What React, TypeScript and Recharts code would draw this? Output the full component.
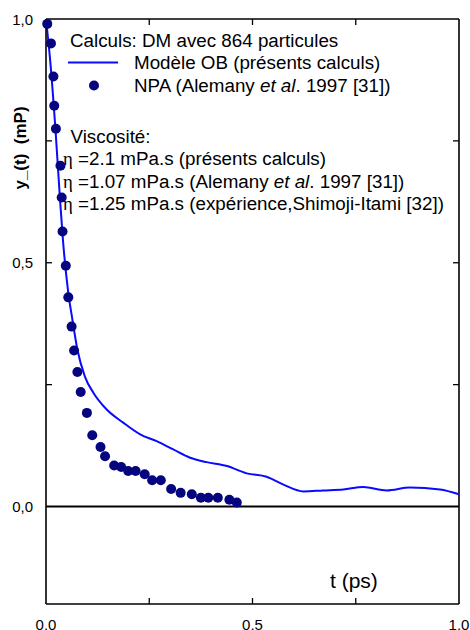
import React from "react"
import {
  ComposedChart,
  Line,
  XAxis,
  YAxis,
  ReferenceLine,
} from "recharts"

// Modèle OB (présents calculs) — courbe continue
const obTimes = [
  0, 0.01, 0.0235, 0.034, 0.041, 0.053, 0.064, 0.076, 0.094, 0.115, 0.147, 0.187, 0.228, 0.268,
  0.308, 0.349, 0.389, 0.438, 0.486, 0.534, 0.575, 0.623, 0.671, 0.72, 0.768, 0.825, 0.881, 0.954, 1.0,
]
const obValues = [
  1.0, 0.916, 0.766, 0.629, 0.547, 0.445, 0.383, 0.322, 0.267, 0.233, 0.199, 0.172, 0.148, 0.134,
  0.117, 0.1, 0.091, 0.083, 0.068, 0.061, 0.045, 0.031, 0.033, 0.035, 0.04, 0.033, 0.039, 0.035, 0.025,
]

// NPA (Alemany et al. 1997) — points
const npaTimes = [
  0.003, 0.012, 0.018, 0.02, 0.024, 0.035, 0.038, 0.04, 0.048, 0.054, 0.062, 0.068, 0.076, 0.084,
  0.099, 0.112, 0.132, 0.143, 0.165, 0.182, 0.199, 0.217, 0.239, 0.257, 0.278, 0.303, 0.326, 0.353,
  0.375, 0.393, 0.416, 0.444, 0.462,
]
const npaValues = [
  0.99, 0.95, 0.882, 0.822, 0.775, 0.699, 0.634, 0.564, 0.494, 0.429, 0.369, 0.32, 0.276, 0.235,
  0.192, 0.146, 0.122, 0.103, 0.084, 0.081, 0.073, 0.073, 0.066, 0.054, 0.054, 0.036, 0.028, 0.025,
  0.018, 0.018, 0.018, 0.014, 0.008,
]

const xTicks = [0, 0.25, 0.5, 0.75, 1.0]
const yTicks = [0, 0.25, 0.5, 0.75, 1.0]
const labelledTicks = [0, 0.5, 1.0]

const obData = obTimes.map((t, i) => ({ t, v: obValues[i] }))
const npaData = npaTimes.map((t, i) => ({ t, v: npaValues[i] }))

const FONT = "'Liberation Sans', Arial, Helvetica, sans-serif"
const BLUE = "#0a0aff"
const NAVY = "#050580"
const TICK_LEN = 6

function fmt(v: number) {
  if (!labelledTicks.includes(v)) return ""
  return v.toFixed(1).replace(".", ",")
}

const axisLine = { stroke: "#000", strokeWidth: 1.6 }

// etiquettes des axes (les traits sont dessinés par les ReferenceLine)
function BottomTick(props: any) {
  const { x, y, payload } = props
  return (
    <text x={x} y={y + 24} textAnchor="middle" fontSize={15} fontFamily={FONT} fill="#000">
      {fmt(payload.value)}
    </text>
  )
}

function LeftTick(props: any) {
  const { x, y, payload } = props
  return (
    <text x={x - 11} y={y + 5.5} textAnchor="end" fontSize={15} fontFamily={FONT} fill="#000">
      {fmt(payload.value)}
    </text>
  )
}

// petits traits vers l'interieur aux deux bouts de la ligne de reference
function VTickPair(props: any) {
  const { x1, y1, x2, y2 } = props
  const top = Math.min(y1, y2)
  const bottom = Math.max(y1, y2)
  return (
    <g stroke="#000" strokeWidth={1.3}>
      <line x1={x1} x2={x1} y1={top} y2={top + TICK_LEN} />
      <line x1={x2} x2={x2} y1={bottom} y2={bottom - TICK_LEN} />
    </g>
  )
}

function HTickPair(props: any) {
  const { x1, y1, x2, y2 } = props
  const left = Math.min(x1, x2)
  const right = Math.max(x1, x2)
  return (
    <g stroke="#000" strokeWidth={1.3}>
      <line x1={left} x2={left + TICK_LEN} y1={y1} y2={y1} />
      <line x1={right} x2={right - TICK_LEN} y1={y2} y2={y2} />
    </g>
  )
}

function NpaDot(props: any) {
  const { cx, cy, index } = props
  return <circle key={`npa${index}`} cx={cx} cy={cy} r={5} fill={NAVY} />
}

export default function App() {
  return (
    <div style={{ position: "absolute", left: 0, top: 0, width: 470, height: 630, background: "#fff", overflow: "hidden" }}>
      {/* textes: légende et titres des axes, derrière le graphique */}
      <svg
        width={470}
        height={630}
        style={{ position: "absolute", left: 0, top: 0 }}
        fontFamily={FONT}
      >
        <text x={70} y={46.5} fontSize={18.8}>Calculs: DM avec 864 particules</text>
        <line x1={68} x2={118} y1={62.5} y2={62.5} stroke={BLUE} strokeWidth={2} />
        <text x={134} y={69} fontSize={18.8}>Modèle OB (présents calculs)</text>
        <circle cx={94} cy={85.5} r={5} fill={NAVY} />
        <text x={134} y={91.5} fontSize={18.8}>
          NPA (Alemany <tspan fontStyle="italic">et al</tspan>. 1997 [31])
        </text>

        <text x={70.5} y={142.5} fontSize={18.8}>Viscosité:</text>
        <text x={63} y={165} fontSize={18.8}>
          <tspan fontFamily="'Liberation Serif', serif">η</tspan> =2.1 mPa.s (présents calculs)
        </text>
        <text x={63} y={187.5} fontSize={18.8}>
          <tspan fontFamily="'Liberation Serif', serif">η</tspan> =1.07 mPa.s (Alemany{" "}
          <tspan fontStyle="italic">et al</tspan>. 1997 [31])
        </text>
        <text x={63} y={210} fontSize={18.8}>
          <tspan fontFamily="'Liberation Serif', serif">η</tspan> =1.25 mPa.s (expérience,Shimoji-Itami [32])
        </text>

        <text x={330} y={588} fontSize={21}>t (ps)</text>
        <text
          x={22}
          y={148}
          fontSize={17}
          fontWeight="bold"
          textAnchor="middle"
          dominantBaseline="middle"
          transform="rotate(-90 22 148)"
        >
          {"y_(t)\u00a0\u00a0(mP)"}
        </text>
      </svg>

      <div style={{ position: "absolute", left: 0, top: 0 }}>
        <ComposedChart width={470} height={630} margin={{ top: 19, right: 11, left: 0, bottom: 0 }}>
          <XAxis
            dataKey="t"
            type="number"
            domain={[0, 1]}
            ticks={xTicks}
            tickSize={0}
            height={26}
            tick={BottomTick}
            axisLine={axisLine}
            tickLine={false}
            interval={0}
          />
          <YAxis
            type="number"
            domain={[-0.2, 1]}
            ticks={yTicks}
            tickSize={0}
            width={46}
            tick={LeftTick}
            axisLine={axisLine}
            tickLine={false}
            interval={0}
          />
          {xTicks
            .filter((t) => t > 0 && t < 1)
            .map((t) => (
              <ReferenceLine key={`xt${t}`} x={t} ifOverflow="visible" shape={VTickPair} />
            ))}
          {yTicks
            .filter((v) => v > 0 && v < 1)
            .map((v) => (
              <ReferenceLine key={`yt${v}`} y={v} ifOverflow="visible" shape={HTickPair} />
            ))}
          <ReferenceLine x={1} ifOverflow="visible" stroke="#000" strokeWidth={1.6} />
          <ReferenceLine y={1} ifOverflow="visible" stroke="#000" strokeWidth={1.6} />
          <ReferenceLine y={0} ifOverflow="visible" stroke="#000" strokeWidth={1.8} />
          <Line
            data={obData}
            dataKey="v"
            type="monotone"
            stroke={BLUE}
            strokeWidth={2}
            dot={false}
            isAnimationActive={false}
          />
          <Line
            data={npaData}
            dataKey="v"
            stroke="none"
            dot={NpaDot}
            activeDot={false}
            isAnimationActive={false}
          />
        </ComposedChart>
      </div>
    </div>
  )
}
